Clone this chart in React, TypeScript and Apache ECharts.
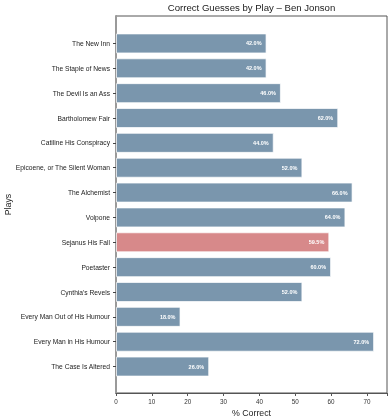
import React, { useEffect, useRef } from "react";
import * as echarts from "echarts";

const plays = [
  "The New Inn",
  "The Staple of News",
  "The Devil Is an Ass",
  "Bartholomew Fair",
  "Catiline His Conspiracy",
  "Epicoene, or The Silent Woman",
  "The Alchemist",
  "Volpone",
  "Sejanus His Fall",
  "Poetaster",
  "Cynthia's Revels",
  "Every Man Out of His Humour",
  "Every Man in His Humour",
  "The Case Is Altered",
];
const pctCorrect = [42, 42, 46, 62, 44, 52, 66, 64, 59.5, 60, 52, 18, 72, 26];
const highlighted = "Sejanus His Fall";
const xTicks = [0, 10, 20, 30, 40, 50, 60, 70];

const FONT = "Liberation Sans, Arial, Helvetica, sans-serif";
const BLUE = "#7a96ad";
const RED = "#d7898a";

export default function App() {
  const ref = useRef<HTMLDivElement>(null);
  useEffect(() => {
    if (!ref.current) return;
    const chart = echarts.init(ref.current, undefined, { renderer: "svg" });
    const xMax = 75.6;
    chart.setOption({
      animation: false,
      textStyle: { fontFamily: FONT },
      title: {
        text: "Correct Guesses by Play – Ben Jonson",
        left: 251.5,
        textAlign: "center",
        top: 2,
        padding: 0,
        textStyle: { fontFamily: FONT, fontSize: 9.6, fontWeight: "normal", color: "#222" },
      },
      grid: [
        { left: 116, right: 4, top: 31, bottom: 41, containLabel: false, outerBoundsMode: "none" },
        {
          left: 116,
          right: 4,
          top: 16,
          bottom: 27,
          show: true,
          borderColor: "#555",
          borderWidth: 1,
          backgroundColor: "transparent",
          containLabel: false,
          outerBoundsMode: "none",
        },
      ],
      xAxis: [
        { type: "value", gridIndex: 0, min: 0, max: xMax, show: false },
        {
          type: "value",
          gridIndex: 1,
          min: 0,
          max: xMax,
          interval: 10,
          name: "% Correct",
          nameLocation: "middle",
          nameGap: 15,
          nameTextStyle: { fontFamily: FONT, fontSize: 8.8, color: "#222" },
          axisLine: { show: true, lineStyle: { color: "#555", width: 1 } },
          axisTick: { show: true, length: 3, lineStyle: { color: "#555" } },
          axisLabel: {
            fontFamily: FONT,
            fontSize: 6.3,
            color: "#333",
            margin: 5,
            formatter: (v: number) => (xTicks.includes(v) ? String(v) : ""),
          },
          splitLine: { show: false },
        },
      ],
      yAxis: [
        {
          type: "category",
          gridIndex: 0,
          data: plays,
          inverse: true,
          axisLine: { show: false },
          axisTick: { show: true, length: 3, alignWithLabel: true, lineStyle: { color: "#444" } },
          axisLabel: { fontFamily: FONT, fontSize: 6.7, color: "#222", margin: 6 },
          splitLine: { show: false },
        },
        {
          type: "value",
          gridIndex: 1,
          min: 0,
          max: 1,
          name: "Plays",
          nameLocation: "middle",
          nameGap: 104,
          nameRotate: 90,
          nameTextStyle: { fontFamily: FONT, fontSize: 8.8, color: "#222" },
          axisLine: { show: true, lineStyle: { color: "#9a9a9a", width: 2 } },
          axisTick: { show: false },
          axisLabel: { show: false },
          splitLine: { show: false },
        },
      ],
      series: [
        {
          type: "bar",
          xAxisIndex: 0,
          yAxisIndex: 0,
          barWidth: 20,
          data: pctCorrect.map((v, i) => ({
            value: v,
            itemStyle: { color: plays[i] === highlighted ? RED : BLUE },
          })),
          itemStyle: { borderColor: "rgba(255,255,255,0.7)", borderWidth: 1 },
          label: {
            show: true,
            position: "insideRight",
            distance: 5,
            formatter: (p: any) => Number(p.value).toFixed(1) + "%",
            color: "#fff",
            fontFamily: FONT,
            fontWeight: "bold",
            fontSize: 5.5,
          },
        },
      ],
    });
    return () => chart.dispose();
  }, []);
  return (
    <div
      ref={ref}
      style={{ position: "fixed", left: 0, top: 0, width: 391, height: 420 }}
    />
  );
}
